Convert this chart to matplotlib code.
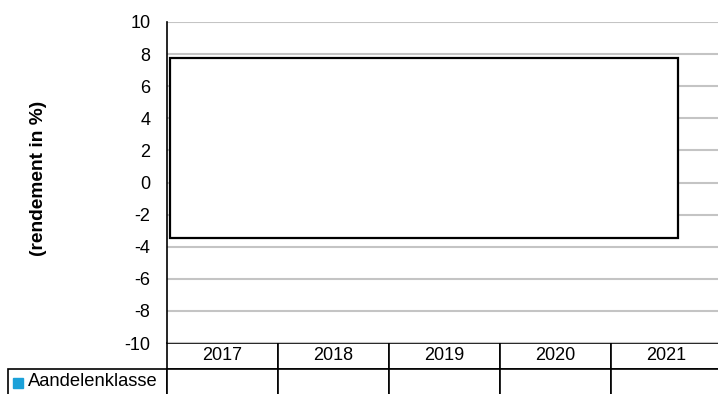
import matplotlib.pyplot as plt
from matplotlib.table import Table
from matplotlib.patches import Rectangle

plt.rcParams['font.family'] = ['Liberation Sans', 'DejaVu Sans']

# gegevens
years = ['2017', '2018', '2019', '2020', '2021']
series_name = 'Aandelenklasse'
series_values = ['', '', '', '', '']  # geen waarden getoond
y_ticks = list(range(-10, 11, 2))

# witte kader (annotatie) in datacoördinaten
box_x0, box_x1 = -0.47, 4.10
box_y0, box_y1 = -3.45, 7.75

fig = plt.figure(figsize=(7.18, 3.94), dpi=100)
ax = fig.add_axes([167 / 718, 51 / 394, 555 / 718, 321 / 394])

ax.set_xlim(-0.5, len(years) - 0.5)
ax.set_ylim(-10, 10)
ax.set_yticks(y_ticks)
ax.set_yticklabels([str(v) for v in y_ticks], fontsize=13)
ax.tick_params(axis='y', length=0, pad=12)
ax.set_xticks([])
ax.grid(axis='y', color='#c4c4c4', linewidth=1.5)
ax.set_axisbelow(True)
for side in ['top', 'right', 'bottom']:
    ax.spines[side].set_visible(False)
ax.spines['left'].set_color('black')
ax.spines['left'].set_linewidth(1.2)

ax.add_patch(Rectangle((box_x0, box_y0), box_x1 - box_x0, box_y1 - box_y0,
                       facecolor='white', edgecolor='black', linewidth=1.6, zorder=3))

# datatabel onder de as
label_w = 159 / 555
row_h = 26 / 321
tab = Table(ax, bbox=[0, -2 * row_h, 1, 2 * row_h])
col_w = 1 / len(years)
for j, yr in enumerate(years):
    c = tab.add_cell(0, j, col_w, row_h, text=yr, loc='center')
    c.set_linewidth(1.2)
    c.get_text().set_fontsize(13)
    c = tab.add_cell(1, j, col_w, row_h, text=series_values[j], loc='center')
    c.set_linewidth(1.2)
c = tab.add_cell(1, -1, label_w, row_h, text=series_name, loc='left')
c.set_linewidth(1.2)
c.PAD = 20 / 159
c.get_text().set_fontsize(13.2)
tab.auto_set_font_size(False)
ax.add_table(tab)

# legendamarker voor de reeks
ax.plot([(17.5 - 167) / 555], [-(382.5 - 343) / 321], marker='s', markersize=6.5,
        color='#1ba1d9', linestyle='none', transform=ax.transAxes, clip_on=False)

fig.text(39 / 718, 1 - 178 / 394, '(rendement in %)', rotation=90, fontsize=13.8,
         fontweight='bold', ha='center', va='center')

fig.savefig('out.png', dpi=100)
